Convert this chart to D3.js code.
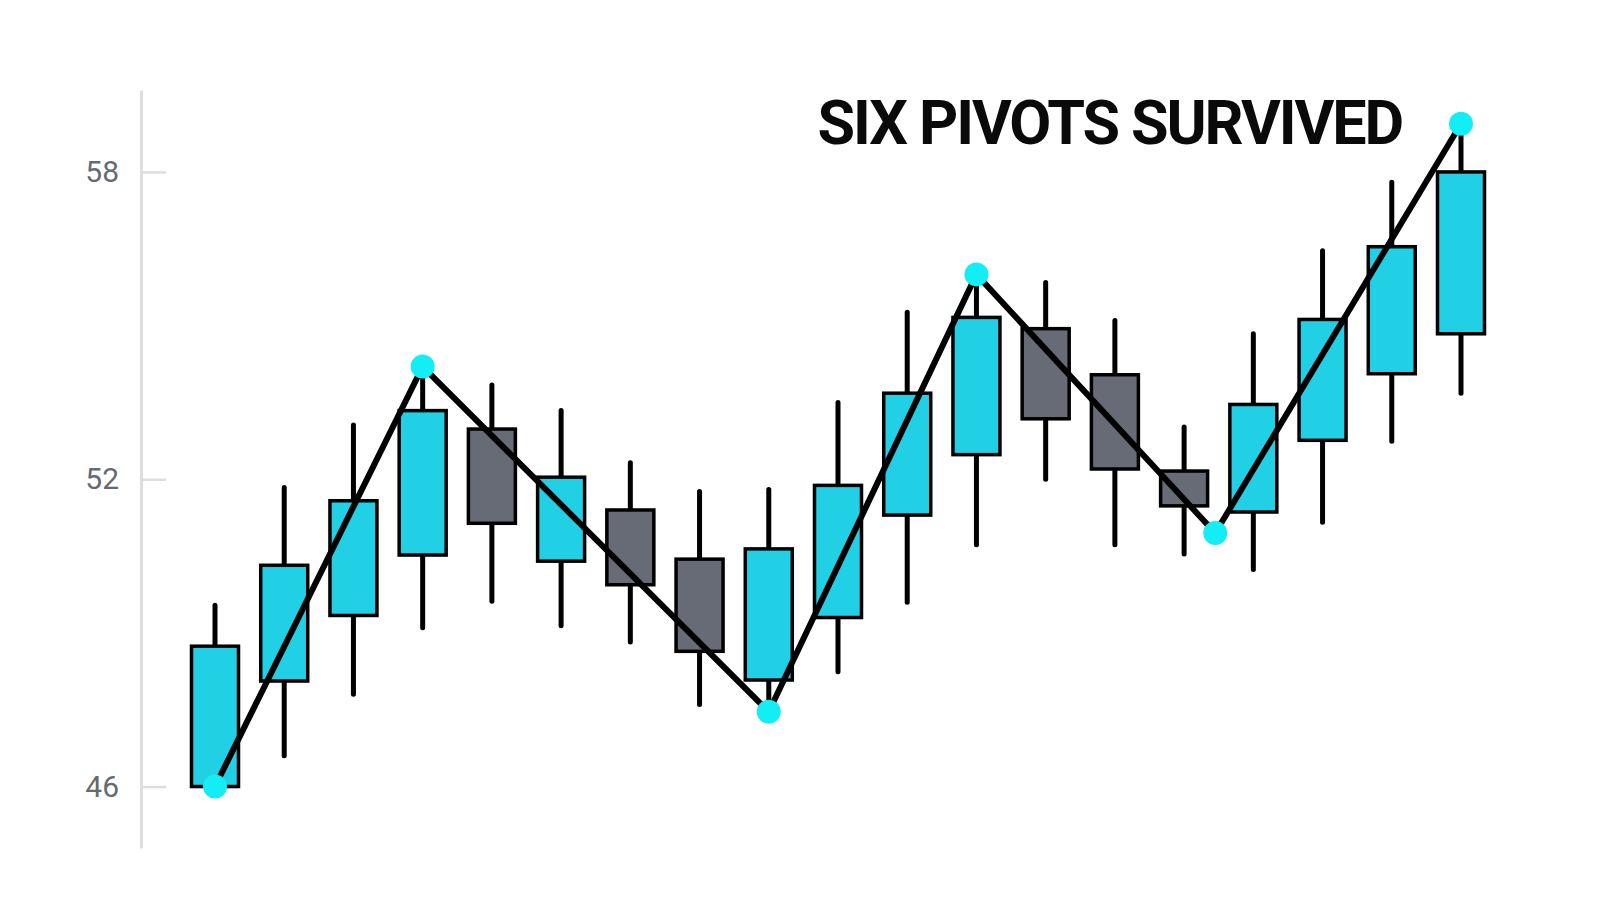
<!DOCTYPE html>
<html>
<head>
<meta charset="utf-8">
<script src="https://cdn.jsdelivr.net/npm/d3@7"></script>
<style>
  body { margin: 0; background: #fff; }
  svg { display: block; }
</style>
</head>
<body>
<div id="chart"></div>
<script>
// candle values
var opens  = [46, 48.06, 49.34, 50.52, 52.98, 50.4, 51.4, 50.44, 48.08, 49.3, 51.3, 52.48, 54.94, 54.04, 52.16, 51.36, 52.76, 54.06, 54.84];
var closes = [48.74, 50.32, 51.58, 53.34, 51.14, 52.04, 49.94, 48.64, 50.64, 51.88, 53.68, 55.16, 53.18, 52.2, 51.48, 53.46, 55.12, 56.54, 58];
var highs  = [49.54, 51.84, 53.06, 54.2, 53.84, 53.34, 52.32, 51.76, 51.8, 53.5, 55.26, 56, 55.84, 55.1, 53.02, 54.84, 56.46, 57.8, 58.94];
var lows   = [46, 46.6, 47.8, 49.1, 49.62, 49.14, 48.82, 47.6, 47.46, 48.24, 49.6, 50.72, 52, 50.72, 50.54, 50.24, 51.16, 52.74, 53.68];

// zigzag pivots (position in candles, price)
var pivotIndex = [0, 3, 8, 11, 14.45, 18];
var pivotValue = [46, 54.2, 47.46, 56, 50.95, 58.94];

var yTicks = [46, 52, 58];
var title = 'SIX PIVOTS SURVIVED';

var width = 1600;
var height = 914;
var bodyWidth = 47;

var svg = d3.select('#chart')
	.append('svg')
	.attr('width', width)
	.attr('height', height);

var xScale = d3.scaleLinear()
	.domain([0, opens.length - 1])
	.range([215, 1461]);

var yScale = d3.scaleLinear()
	.domain([44.8, 59.6])
	.range([848, 90]);

// y axis
var yAxis = d3.axisLeft(yScale)
	.tickValues(yTicks)
	.tickSizeInner(-25)
	.tickSizeOuter(0)
	.tickPadding(22);

var axisG = svg.append('g')
	.attr('transform', 'translate(141, 0)')
	.call(yAxis);

axisG.select('.domain')
	.attr('stroke', '#dedede')
	.attr('stroke-width', 3);
axisG.selectAll('.tick line')
	.attr('stroke', '#dedede')
	.attr('stroke-width', 2.5);
axisG.selectAll('.tick text')
	.attr('fill', '#666a70')
	.style('font-family', 'Roboto, sans-serif')
	.style('font-size', '30px');

var candles = d3.range(opens.length);

// wicks
svg.append('g')
	.selectAll('line')
	.data(candles)
	.join('line')
	.attr('x1', function(i) { return xScale(i); })
	.attr('x2', function(i) { return xScale(i); })
	.attr('y1', function(i) { return yScale(highs[i]); })
	.attr('y2', function(i) { return yScale(lows[i]); })
	.attr('stroke', '#000')
	.attr('stroke-width', 5)
	.attr('stroke-linecap', 'round');

// bodies
svg.append('g')
	.selectAll('rect')
	.data(candles)
	.join('rect')
	.attr('x', function(i) { return xScale(i) - bodyWidth / 2; })
	.attr('y', function(i) { return yScale(Math.max(opens[i], closes[i])); })
	.attr('width', bodyWidth)
	.attr('height', function(i) { return Math.abs(yScale(opens[i]) - yScale(closes[i])); })
	.attr('fill', function(i) { return closes[i] >= opens[i] ? '#22d0e6' : '#676b75'; })
	.attr('stroke', '#000')
	.attr('stroke-width', 3.5);

// zigzag line
var zigzag = d3.line()
	.x(function(i) { return xScale(pivotIndex[i]); })
	.y(function(i) { return yScale(pivotValue[i]); });

svg.append('path')
	.datum(d3.range(pivotIndex.length))
	.attr('d', zigzag)
	.attr('fill', 'none')
	.attr('stroke', '#000')
	.attr('stroke-width', 6)
	.attr('stroke-linejoin', 'round');

// pivot dots
svg.append('g')
	.selectAll('circle')
	.data(d3.range(pivotIndex.length))
	.join('circle')
	.attr('cx', function(i) { return xScale(pivotIndex[i]); })
	.attr('cy', function(i) { return yScale(pivotValue[i]); })
	.attr('r', 12)
	.attr('fill', '#12eef4');

svg.append('text')
	.attr('x', 1402)
	.attr('y', 144)
	.attr('text-anchor', 'end')
	.attr('fill', '#0a0a0a')
	.style('font-family', 'Roboto, sans-serif')
	.style('font-weight', 700)
	.style('font-size', '61px')
	.style('letter-spacing', '-2.1px')
	.text(title);
</script>
</body>
</html>
